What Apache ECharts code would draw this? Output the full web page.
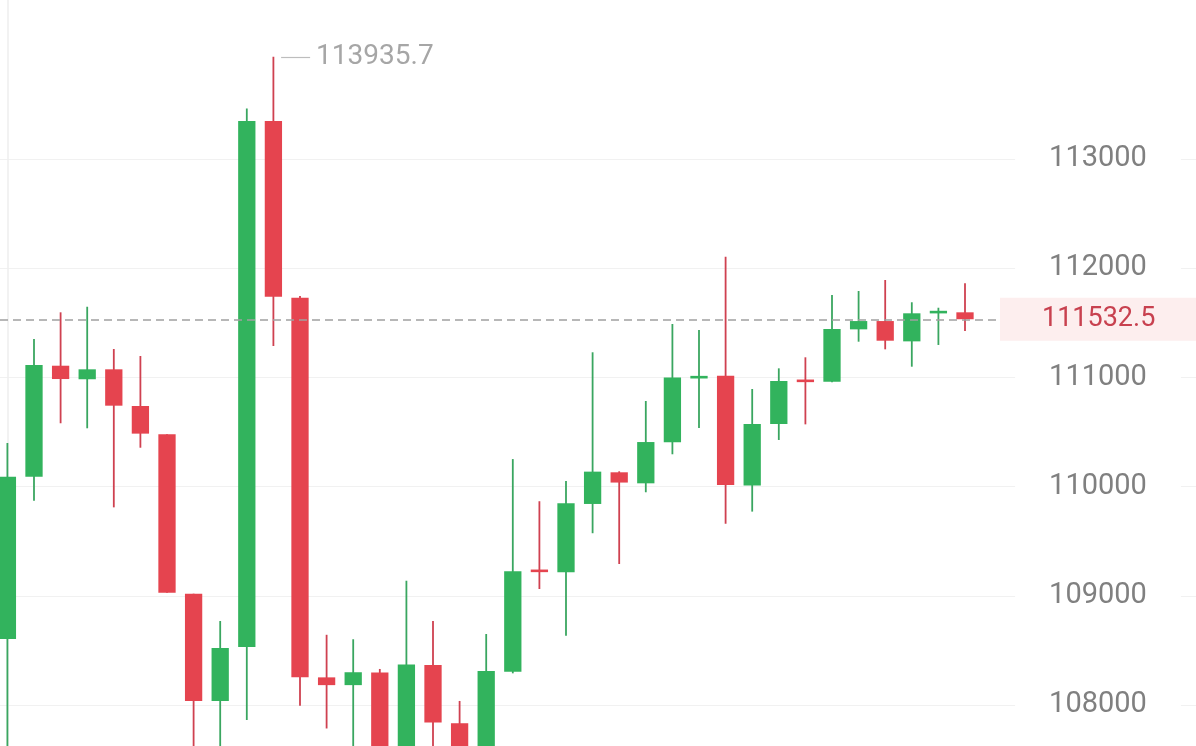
<!DOCTYPE html>
<html>
<head>
<meta charset="utf-8">
<script src="https://cdn.jsdelivr.net/npm/echarts@6/dist/echarts.min.js"></script>
<style>
html,body{margin:0;padding:0;background:#ffffff;}
#chart{width:1196px;height:746px;}
</style>
</head>
<body>
<div id="chart"></div>
<script>
// ---- data ----
const opens  = [108604,110091,111107,110983,111074,110738,110479,109019,108037,108531,113348,111730,108253,108182,108297,107450,108366,107833,107400,108305,109235,109215,109841,110131,110030,110405,110990,111015,110009,110573,110975,110960,111440,111516,111330,111590,111596];
const closes = [110091,111114,110985,111074,110741,110485,109029,108037,108522,113348,111738,108253,108182,108300,107450,108372,107839,107400,108311,109225,109222,109847,110137,110037,110408,111000,111014,110015,110573,110967,110962,111443,111516,111336,111587,111606,111532.5];
const lows   = [107400,109871,110580,110534,109810,110356,109029,107500,107550,107863,111288,107993,107785,107560,107350,107300,107550,107300,107350,108290,109062,108635,109573,109291,109948,110296,110537,109660,109771,110427,110570,110955,111327,111257,111098,111297,111425];
const highs  = [110399,111352,111596,111647,111260,111196,110479,109019,108769,113462,113935.7,111745,108643,108602,108330,109138,108769,108037,108650,110252,109866,110051,111230,110140,110784,111489,111434,112104,110894,111083,111184,111755,111791,111892,111688,111638,111862];
const yTickLabels = [108000,109000,110000,111000,112000,113000];
const lastPrice = 111532.5;

// ---- style / layout ----
const UP = '#32b35d', DOWN = '#e5444f';
const UP_WICK = '#3aa660', DOWN_WICK = '#cf4150';
const PX_PER_CANDLE = 26.6;
const FIRST_X = 7.4;
const PLOT_W = 1000;
const xMin = -FIRST_X / PX_PER_CANDLE;
const xMax = xMin + PLOT_W / PX_PER_CANDLE;
const Y_MIN = 107000, Y_MAX = 115000;
const GRID_TOP = -59.4, GRID_BOTTOM = -68.2;
const FONT = 'Roboto, "Noto Sans", sans-serif';

const candles = opens.map((o, i) => [i, o, closes[i], lows[i], highs[i]]);

let maxIdx = 0;
highs.forEach((h, i) => { if (h > highs[maxIdx]) maxIdx = i; });
const maxHigh = highs[maxIdx];

function renderItem(params, api) {
  const x = api.value(0), o = api.value(1), c = api.value(2), l = api.value(3), h = api.value(4);
  const pO = api.coord([x, o]), pC = api.coord([x, c]);
  const pL = api.coord([x, l]), pH = api.coord([x, h]);
  const w = api.size([1, 0])[0] * 0.65;
  const up = c >= o;
  let top = Math.min(pO[1], pC[1]), bot = Math.max(pO[1], pC[1]);
  if (bot - top < 2.6) { const m = (top + bot) / 2; top = m - 1.3; bot = m + 1.3; }
  return {
    type: 'group',
    children: [
      { type: 'line', shape: { x1: pO[0], y1: pH[1], x2: pO[0], y2: pL[1] },
        style: { stroke: up ? UP_WICK : DOWN_WICK, lineWidth: 1.8 } },
      { type: 'rect', shape: { x: pO[0] - w / 2, y: top, width: w, height: bot - top },
        style: { fill: up ? UP : DOWN } }
    ]
  };
}

const splitColors = [];
for (let v = Y_MIN; v <= Y_MAX; v += 1000) {
  splitColors.push(yTickLabels.indexOf(v) >= 0 ? '#f1f1f1' : 'rgba(0,0,0,0)');
}

const chart = echarts.init(document.getElementById('chart'), null, { renderer: 'canvas' });
chart.setOption({
  animation: false,
  backgroundColor: '#ffffff',
  textStyle: { fontFamily: FONT },
  grid: [
    { left: 0, width: PLOT_W, top: GRID_TOP, bottom: GRID_BOTTOM, containLabel: false, outerBoundsMode: 'none' },
    { left: 0, right: 0, top: GRID_TOP, bottom: GRID_BOTTOM, containLabel: false, outerBoundsMode: 'none' }
  ],
  xAxis: [
    { type: 'value', gridIndex: 0, min: xMin, max: xMax, show: false },
    { type: 'value', gridIndex: 1, min: 0, max: 1, show: false }
  ],
  yAxis: [
    { type: 'value', gridIndex: 0, position: 'right', min: Y_MIN, max: Y_MAX, interval: 1000,
      axisLine: { show: true, lineStyle: { color: '#eeeeee', width: 1.5 } },
      axisTick: { show: false }, axisLabel: { show: false }, splitLine: { show: false } },
    { type: 'value', gridIndex: 1, position: 'right', min: Y_MIN, max: Y_MAX, interval: 1000,
      axisLine: { show: false }, axisTick: { show: false },
      splitLine: { show: true, lineStyle: { color: splitColors, width: 1 } },
      axisLabel: {
        show: true, inside: true, align: 'center', margin: 98,
        color: '#808080', fontSize: 29, fontFamily: FONT,
        backgroundColor: '#ffffff', padding: [7, 34, 1, 34],
        formatter: v => (yTickLabels.indexOf(v) >= 0 ? String(v) : '')
      } }
  ],
  series: [{
    type: 'custom',
    xAxisIndex: 0, yAxisIndex: 0,
    renderItem: renderItem,
    encode: { x: 0, y: [1, 2, 3, 4] },
    data: candles,
    z: 3,
    markLine: {
      silent: true,
      symbol: ['none', 'none'],
      animation: false,
      data: [
        {
          yAxis: lastPrice,
          lineStyle: { color: '#a0a0a0', type: [8, 5], width: 1.5 },
          label: {
            show: true, position: 'end', distance: 0,
            formatter: () => lastPrice.toFixed(1),
            color: '#c8414f', fontSize: 27, fontFamily: FONT,
            backgroundColor: '#fdeeee', padding: [11, 42, 5, 42]
          }
        },
        [
          {
            coord: [maxIdx + 0.29, maxHigh],
            lineStyle: { color: '#bdbdbd', type: 'solid', width: 1.2 },
            label: {
              show: true, position: 'end', distance: 6,
              formatter: () => String(maxHigh),
              color: '#a6a6a6', fontSize: 28, fontFamily: FONT,
              padding: [5, 0, 0, 0]
            }
          },
          { coord: [maxIdx + 1.38, maxHigh] }
        ]
      ]
    }
  }]
});
</script>
</body>
</html>
